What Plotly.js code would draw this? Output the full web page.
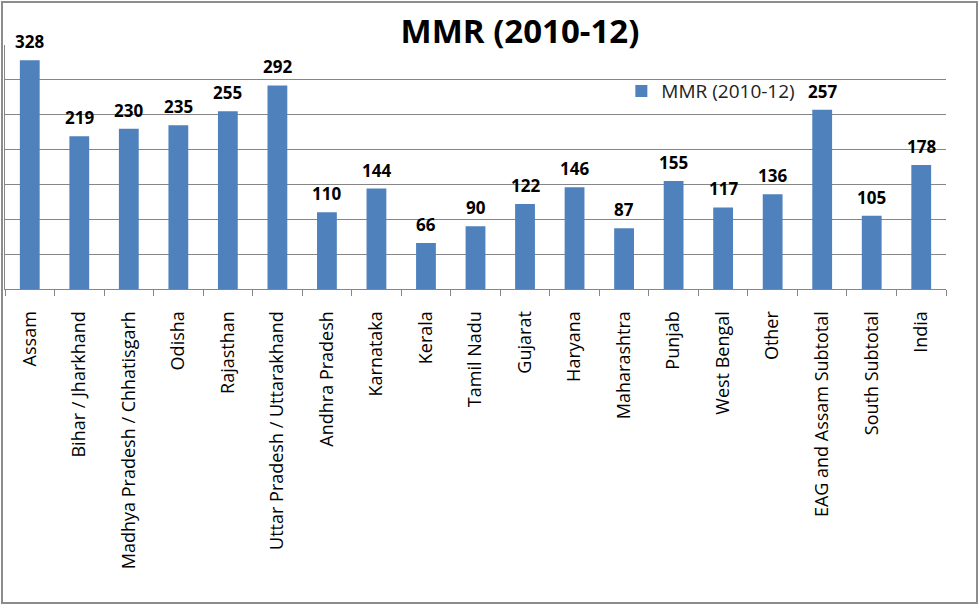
<!DOCTYPE html>
<html>
<head>
<meta charset="utf-8">
<script src="https://cdn.plot.ly/plotly-3.0.1.min.js"></script>
<style>
  html, body { margin: 0; padding: 0; background: #fff; }
  #wrap { position: relative; width: 978px; height: 604px; }
  #chart { width: 978px; height: 604px; }
  #frame { position: absolute; left: 1px; top: 1px; width: 973px; height: 599px;
           border: 2px solid #8c8c8c; pointer-events: none; }
</style>
</head>
<body>
<div id="wrap">
  <div id="chart"></div>
  <div id="frame"></div>
</div>
<script>
const categories = [
  "Assam", "Bihar / Jharkhand", "Madhya Pradesh / Chhatisgarh", "Odisha",
  "Rajasthan", "Uttar Pradesh / Uttarakhand", "Andhra Pradesh", "Karnataka",
  "Kerala", "Tamil Nadu", "Gujarat", "Haryana", "Maharashtra", "Punjab",
  "West Bengal", "Other", "EAG and Assam Subtotal", "South Subtotal", "India"
];
const mmrValues = [328, 219, 230, 235, 255, 292, 110, 144, 66, 90, 122, 146, 87, 155, 117, 136, 257, 105, 178];
const seriesName = "MMR (2010-12)";
const yTicks = [0, 50, 100, 150, 200, 250, 300, 350];

const font = "Open Sans, Liberation Sans, sans-serif";

const trace = {
  type: "bar",
  name: seriesName,
  x: categories,
  y: mmrValues,
  marker: { color: "#4f81bd" },
  showlegend: true,
  hoverinfo: "x+y"
};

const valueLabels = categories.map((c, i) => ({
  x: c,
  y: mmrValues[i],
  xref: "x",
  yref: "y",
  text: "<b>" + mmrValues[i] + "</b>",
  showarrow: false,
  yanchor: "bottom",
  yshift: 5,
  font: { family: font, size: 17, color: "#000" }
}));

const layout = {
  width: 978,
  height: 604,
  margin: { l: 5, r: 32, t: 45, b: 315 },
  paper_bgcolor: "#fff",
  plot_bgcolor: "#fff",
  bargap: 0.6,
  title: {
    text: "<b>MMR (2010-12)</b>",
    font: { family: font, size: 33, color: "#000" },
    xref: "container", x: 520 / 978, xanchor: "center",
    yref: "container", y: 1 - 31 / 604, yanchor: "middle"
  },
  showlegend: true,
  legend: {
    x: 0.655, xanchor: "left",
    y: 0.811, yanchor: "middle",
    bgcolor: "rgba(0,0,0,0)",
    font: { family: font, size: 19, color: "#222" }
  },
  annotations: valueLabels,
  xaxis: {
    type: "category",
    tickangle: -90,
    tickson: "boundaries",
    ticks: "outside",
    ticklen: 6,
    tickcolor: "#868686",
    ticklabelstandoff: 14,
    showline: true,
    linecolor: "#868686",
    linewidth: 1,
    showgrid: false,
    tickfont: { family: font, size: 18, color: "#000" },
    automargin: false
  },
  yaxis: {
    range: [0, 350],
    tickvals: yTicks,
    showticklabels: false,
    showgrid: true,
    gridcolor: "#868686",
    gridwidth: 1,
    zeroline: false,
    showline: true,
    linecolor: "#868686",
    ticks: "",
    automargin: false
  }
};

Plotly.newPlot("chart", [trace], layout, { displayModeBar: false, staticPlot: true });
</script>
</body>
</html>
